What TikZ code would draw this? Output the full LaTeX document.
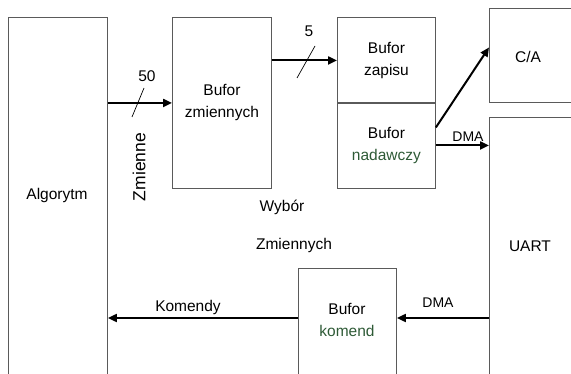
\documentclass[tikz,border=0pt]{standalone}
\usepackage{fontspec}
\setmainfont{Liberation Sans}
\usetikzlibrary{arrows.meta,positioning}
\definecolor{boxgray}{HTML}{5A5A5A}
\definecolor{txtgreen}{HTML}{2E5A36}
\tikzset{
  >={Triangle[length=9pt,width=8pt]},
  % bloki
  blk/.style={draw=boxgray,line width=0.9pt,inner sep=0pt,anchor=north west},
  lbl/.style={font=\fontsize{15.5}{22}\selectfont,align=center,inner sep=1pt},
  % strzalki
  flow/.style={->,draw=black,line width=2pt},
  bus/.style={draw=black,line width=0.7pt},
}
\begin{document}
\begin{tikzpicture}[x=1pt,y=-1pt]
  \useasboundingbox (0,0) rectangle (571,374);
  \clip (0,0) rectangle (571,374);
  \node[blk,minimum width=99pt,minimum height=400pt] (alg) at (8,17) {};
  \node[blk,minimum width=99pt,minimum height=171pt,lbl] (zm) at (172,17) {Bufor\\zmiennych};
  \node[blk,minimum width=98pt,minimum height=86pt,lbl] (zap) at (337,17) {Bufor\\zapisu};
  \node[blk,minimum width=98pt,minimum height=86pt,lbl] (nad) at (337,102) {Bufor\\\textcolor{txtgreen}{nadawczy}};
  \node[blk,minimum width=120pt,minimum height=94pt] (ca) at (489,8) {};
  \node[blk,minimum width=120pt,minimum height=300pt] (uart) at (489,117) {};
  \node[blk,minimum width=98pt,minimum height=150pt] (kom) at (298,268) {};
  \node[lbl] (algt) at (57,195) {Algorytm};
  \node[lbl] (cat) at (528,57) {C/A};
  \node[lbl] (uartt) at (530,246) {UART};
  \node[lbl] (komt) at (347,320) {Bufor\\\textcolor{txtgreen}{komend}};
  \node[lbl] (wyb) at (282,207) {Wybór};
  \node[lbl] (zmn) at (294,245) {Zmiennych};
  \node[lbl,rotate=90,font=\fontsize{17.5}{20}\selectfont] (zmie) at (139,167) {Zmienne};
  % polaczenia
  \draw[flow] (alg.east |- zm.west) -- (zm.west);
  \coordinate (s1) at (138,103);
  \draw[bus] ([shift={(-6,14)}]s1) -- ([shift={(6,-15)}]s1);
  \node[lbl] (n50) at (147,76) {50};
  \draw[flow] (zm.east |- zap.west) -- (zap.west);
  \coordinate (s2) at (306,61);
  \draw[bus] ([shift={(-9,17)}]s2) -- ([shift={(9,-15)}]s2);
  \node[lbl] (n5) at (309,31) {5};
  \draw[flow] ([yshift=18pt]nad.east) -- ([yshift=8pt]ca.west);
  \draw[flow] (nad.east) -- (nad.east -| uart.west);
  \node[lbl,font=\fontsize{14}{16}\selectfont] (dma1) at (468,137) {DMA};
  \draw[flow] (uart.west |- 0,318) -- (kom.east |- 0,318);
  \node[lbl,font=\fontsize{14}{16}\selectfont] (dma2) at (438,303) {DMA};
  \draw[flow] (kom.west |- 0,318) -- (alg.east |- 0,318);
  \node[lbl] (kmd) at (188,307) {Komendy};
\end{tikzpicture}
\end{document}
